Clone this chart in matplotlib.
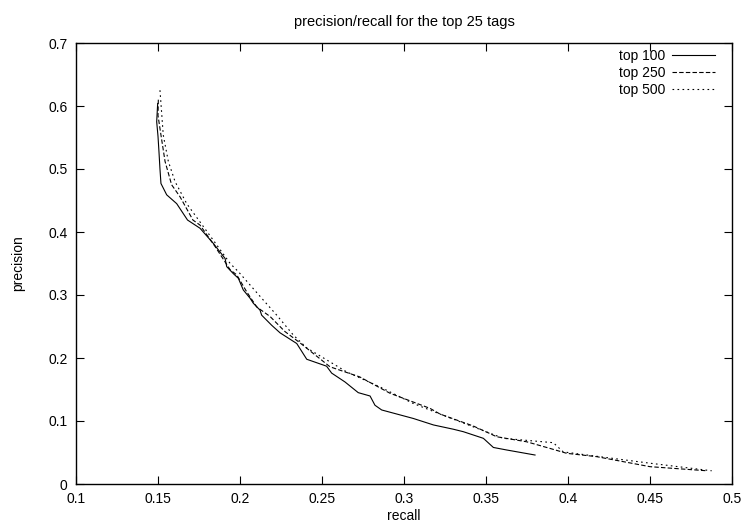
import matplotlib
matplotlib.use("Agg")
import matplotlib.pyplot as plt
from matplotlib.ticker import MultipleLocator, FuncFormatter

# precision/recall curves for three cutoffs
recall_100 = [0.1498, 0.1492, 0.1500, 0.1506, 0.1512, 0.1518, 0.1553, 0.1614, 0.1680,
              0.1756, 0.1837, 0.1909, 0.1919, 0.1959, 0.1990, 0.2020, 0.2061, 0.2081,
              0.2122, 0.2132, 0.2193, 0.2244, 0.2346, 0.2407, 0.2528, 0.2559, 0.2640,
              0.2721, 0.2793, 0.2823, 0.2864, 0.3057, 0.3180, 0.3300, 0.3362, 0.3484,
              0.3545, 0.3626, 0.3799]
precision_100 = [0.604, 0.575, 0.552, 0.527, 0.500, 0.477, 0.459, 0.445, 0.419,
                 0.406, 0.382, 0.358, 0.345, 0.334, 0.3265, 0.308, 0.295, 0.287,
                 0.276, 0.268, 0.252, 0.240, 0.223, 0.198, 0.187, 0.176, 0.162,
                 0.145, 0.1397, 0.125, 0.1175, 0.104, 0.0937, 0.087, 0.083, 0.0725,
                 0.058, 0.054, 0.046]

recall_250 = [0.1502, 0.1500, 0.1518, 0.1543, 0.1583, 0.1634, 0.1713, 0.1756, 0.1848,
              0.1940, 0.1980, 0.2041, 0.2102, 0.2183, 0.2274, 0.2366, 0.2549, 0.2730,
              0.2915, 0.3159, 0.3220, 0.3423, 0.3524, 0.3565, 0.3748, 0.3890, 0.3992,
              0.4175, 0.4500, 0.4846]
precision_250 = [0.610, 0.585, 0.554, 0.512, 0.475, 0.456, 0.419, 0.411, 0.377,
                 0.340, 0.332, 0.305, 0.281, 0.266, 0.242, 0.224, 0.186, 0.170,
                 0.144, 0.120, 0.111, 0.092, 0.080, 0.075, 0.067, 0.0565, 0.0487,
                 0.0434, 0.0275, 0.021]

recall_500 = [0.1512, 0.1522, 0.1532, 0.1563, 0.1604, 0.1675, 0.1756, 0.1837, 0.1940,
              0.1990, 0.2061, 0.2142, 0.2224, 0.2325, 0.2407, 0.2650, 0.2854, 0.3055,
              0.3220, 0.3484, 0.3606, 0.3910, 0.3971, 0.4175, 0.4500, 0.4876]
precision_500 = [0.625, 0.590, 0.554, 0.512, 0.480, 0.445, 0.416, 0.387, 0.350,
                 0.337, 0.316, 0.292, 0.268, 0.2365, 0.216, 0.178, 0.154, 0.128,
                 0.111, 0.0846, 0.0725, 0.0656, 0.051, 0.044, 0.033, 0.021]

series_labels = ["top 100", "top 250", "top 500"]

plt.rcParams["font.family"] = ["Liberation Sans", "DejaVu Sans"]
plt.rcParams["font.size"] = 10
plt.rcParams["lines.scale_dashes"] = False

W, H = 746, 527
fig = plt.figure(figsize=(W / 100, H / 100), dpi=100)
ax = fig.add_axes([76 / W, 1 - 484 / H, 656 / W, 441 / H])

lw = 0.8
ax.plot(recall_100, precision_100, color="black", lw=lw, label=series_labels[0])
ax.plot(recall_250, precision_250, color="black", lw=lw, dashes=(3.2, 1.6),
        label=series_labels[1])
ax.plot(recall_500, precision_500, color="black", lw=lw, dashes=(1.2, 2.4),
        label=series_labels[2])

ax.set_xlim(0.1, 0.5)
ax.set_ylim(0, 0.7)
ax.xaxis.set_major_locator(MultipleLocator(0.05))
ax.yaxis.set_major_locator(MultipleLocator(0.1))
fmt = FuncFormatter(lambda v, p: "%g" % round(v, 4))
ax.xaxis.set_major_formatter(fmt)
ax.yaxis.set_major_formatter(fmt)
ax.tick_params(direction="in", length=6, width=0.8, top=True, right=True,
               pad=6, labelsize=10)
for sp in ax.spines.values():
    sp.set_linewidth(1.0)

leg = ax.legend(loc="upper right", bbox_to_anchor=(715 / W, 1 - 49 / H),
                bbox_transform=fig.transFigure, frameon=False, markerfirst=False,
                handlelength=3.1, handletextpad=0.45, borderpad=0,
                borderaxespad=0, labelspacing=0.2, fontsize=10)

fig.text(404 / W, 1 - 22 / H, "precision/recall for the top 25 tags",
         ha="center", va="center", fontsize=10.5)
fig.text(404 / W, 1 - 516 / H, "recall", ha="center", va="center", fontsize=10)
fig.text(18 / W, 1 - 263 / H, "precision", ha="center", va="center",
         rotation=90, fontsize=10)

fig.savefig("out.png", dpi=100)
